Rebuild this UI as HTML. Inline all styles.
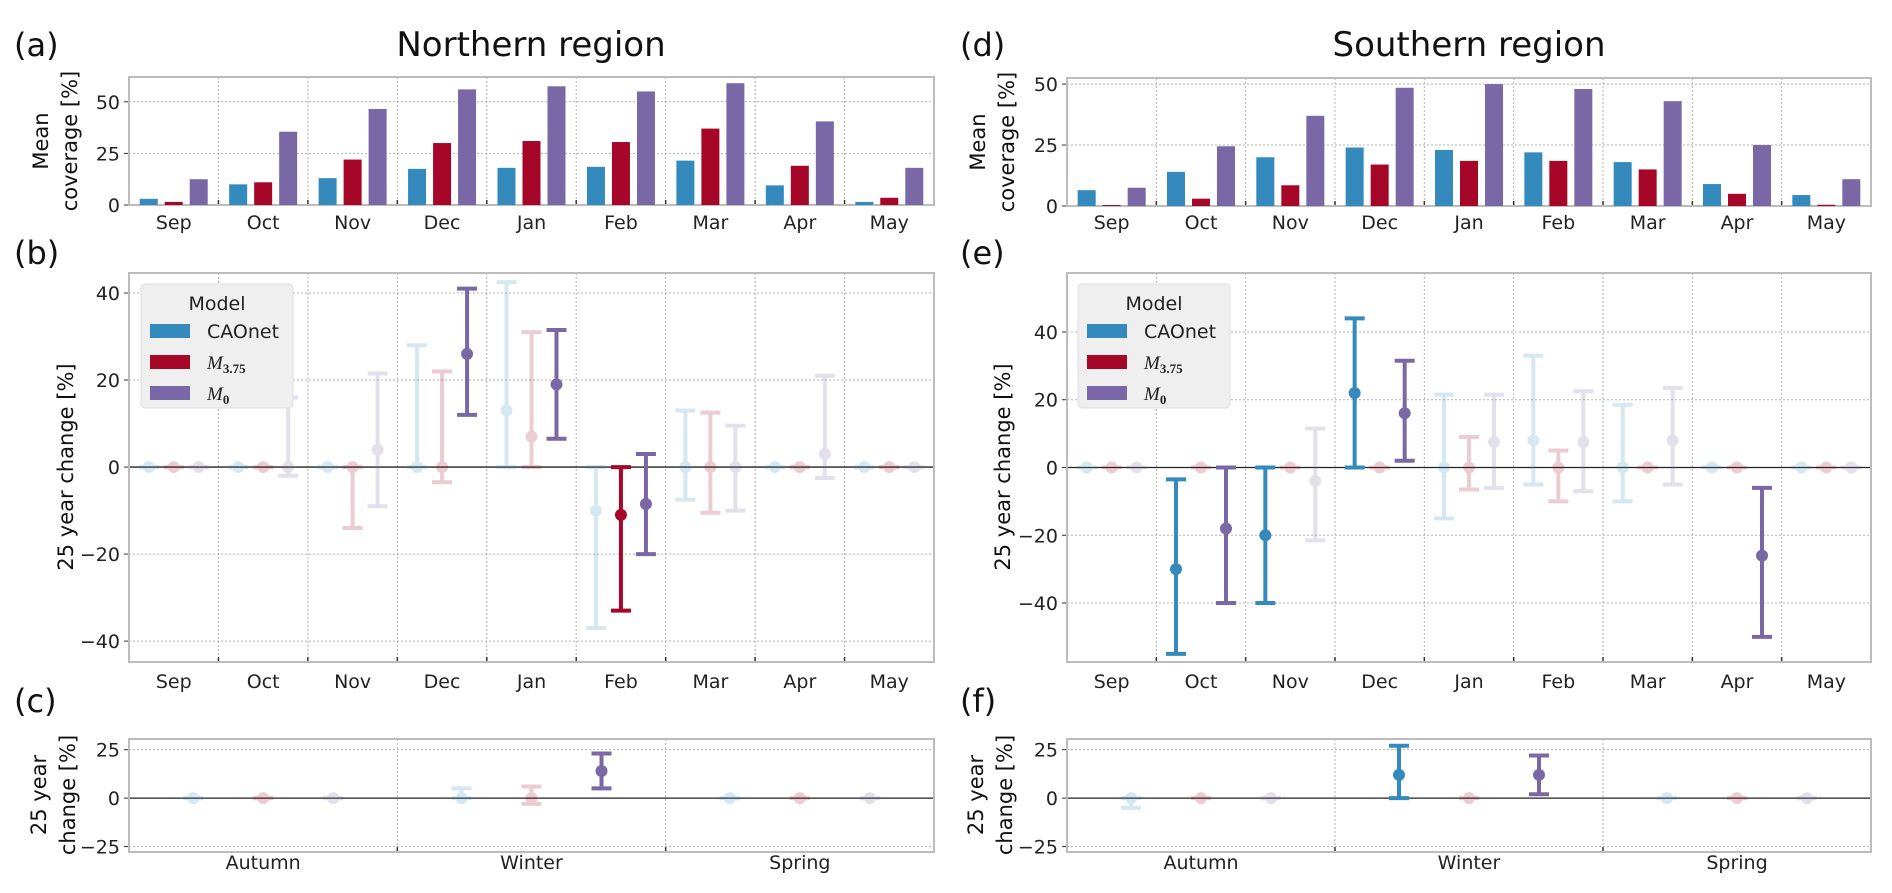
<!DOCTYPE html>
<html><head><meta charset="utf-8">
<style>
html,body{margin:0;padding:0;background:#fff;}
svg{display:block;font-family:"DejaVu Sans","Liberation Sans",sans-serif;}
</style></head>
<body>
<svg id="fig" width="1892" height="893" viewBox="0 0 1892 893" xmlns="http://www.w3.org/2000/svg"></svg>
<script>
const months = ["Sep","Oct","Nov","Dec","Jan","Feb","Mar","Apr","May"];
const seasons = ["Autumn","Winter","Spring"];
const models = ["CAOnet","M3.75","M0"];
const colors = ["#348ABD","#A60628","#7A68A6"];
// Mean coverage
const northCAOnet = [3,10,13,17.5,18,18.5,21.5,9.5,1.5];
const northM375 = [1.5,11,22,30,31,30.5,37,19,3.5];
const northM0 = [12.5,35.5,46.5,56,57.5,55,59,40.5,18];
const southCAOnet = [6.5,14,20,24,23,22,18,9,4.5];
const southM375 = [0.4,3,8.5,17,18.5,18.5,15,5,0.5];
const southM0 = [7.5,24.5,37,48.5,50,48,43,25,11];
// 25 year change monthly: mean, low, high, solid(1)/faded(0)
const nCmean=[0,0,0,0,13,-10,0,0,0], nClow=[0,0,0,0,0,-37,-7.5,0,0], nChigh=[0,0,0,28,42.5,0,13,0,0], nCsolid=[0,0,0,0,0,0,0,0,0];
const nMmean=[0,0,0,0,7,-11,0,0,0], nMlow=[0,0,-14,-3.5,0,-33,-10.5,0,0], nMhigh=[0,0,0,22,31,0,12.5,0,0], nMsolid=[0,0,0,0,0,1,0,0,0];
const nPmean=[0,0,4,26,19,-8.5,0,3,0], nPlow=[0,-2,-9,12,6.5,-20,-10,-2.5,0], nPhigh=[0,16,21.5,41,31.5,3,9.5,21,0], nPsolid=[0,0,0,1,1,1,0,0,0];
const sCmean=[0,-30,-20,22,0,8,0,0,0], sClow=[0,-55,-40,0,-15,-5,-10,0,0], sChigh=[0,-3.5,0,44,21.5,33,18.5,0,0], sCsolid=[0,1,1,1,0,0,0,0,0];
const sMmean=[0,0,0,0,0,0,0,0,0], sMlow=[0,0,0,0,-6.5,-10,0,0,0], sMhigh=[0,0,0,0,9,5,0,0,0], sMsolid=[0,0,0,0,0,0,0,0,0];
const sPmean=[0,-18,-4,16,7.5,7.5,8,-26,0], sPlow=[0,-40,-21.5,2,-6,-7,-5,-50,0], sPhigh=[0,0,11.5,31.5,21.5,22.5,23.5,-6,0], sPsolid=[0,1,0,1,0,0,0,1,0];
// seasonal
const ncCmean=[0,0,0], ncClow=[0,0,0], ncChigh=[0,5,0], ncCsolid=[0,0,0];
const ncMmean=[0,0,0], ncMlow=[0,-3,0], ncMhigh=[0,6,0], ncMsolid=[0,0,0];
const ncPmean=[0,14,0], ncPlow=[0,5,0], ncPhigh=[0,23,0], ncPsolid=[0,1,0];
const sfCmean=[0,12,0], sfClow=[-5,0,0], sfChigh=[0,27,0], sfCsolid=[0,1,0];
const sfMmean=[0,0,0], sfMlow=[0,0,0], sfMhigh=[0,0,0], sfMsolid=[0,0,0];
const sfPmean=[0,12,0], sfPlow=[0,2,0], sfPhigh=[0,22,0], sfPsolid=[0,1,0];
const ticksA=[0,25,50], ticksB=[-40,-20,0,20,40], ticksC=[-25,0,25];

const NS="http://www.w3.org/2000/svg";
const svg=document.getElementById('fig');
function el(tag,attrs,parent,text){const e=document.createElementNS(NS,tag);for(const k in attrs)e.setAttribute(k,attrs[k]);if(text!==undefined)e.textContent=text;(parent||svg).appendChild(e);return e;}

function axes(name,x0,x1,y0,y1,ymin,ymax,ticks,cats,catLabY,zeroLine){
  const g=el('g',{});
  
  
  const ys=v=>y1-(v-ymin)/(ymax-ymin)*(y1-y0);
  const n=cats.length, w=(x1-x0)/n;
  const xc=i=>x0+(i+0.5)*w;
  // grid
  for(let i=1;i<n;i++){const gl=el('line',{x1:x0+i*w,x2:x0+i*w,y1:y0,y2:y1,stroke:'#b0b0b0','stroke-width':1,'stroke-dasharray':'2,2'},g);
    
    el('line',{x1:x0+i*w,x2:x0+i*w,y1:y1,y2:y1-5,stroke:'#333','stroke-width':1.5},g);}
  ticks.forEach(t=>{const y=ys(t);
    const gl=el('line',{x1:x0,x2:x1,y1:y,y2:y,stroke:'#b0b0b0','stroke-width':1,'stroke-dasharray':'2,2'},g);
    
    el('line',{x1:x0-5,x2:x0,y1:y,y2:y,stroke:'#333','stroke-width':1},g);
    const tl=el('text',{x:x0-9,y:y+7,'text-anchor':'end','font-size':19,fill:'#222'},g,String(t).replace('-','\u2212'));
    });
  cats.forEach((c,i)=>{const t=el('text',{x:xc(i),y:catLabY,'text-anchor':'middle','font-size':19,fill:'#222'},g,c);
    });
  if(zeroLine){el('line',{x1:x0,x2:x1,y1:ys(0),y2:ys(0),stroke:'#222','stroke-width':1.3},g);}
  const fr=el('rect',{x:x0,y:y0,width:x1-x0,height:y1-y0,fill:'none',stroke:'#bcbcbc','stroke-width':2},g);
  
  return {g,ys,xc};
}

function bars(ax,series){
  series.forEach((vals,m)=>{vals.forEach((v,i)=>{
    const x=ax.xc(i)+(m-1)*25-9;
    const r=el('rect',{x:x,y:ax.ys(v),width:18,height:ax.ys(0)-ax.ys(v),fill:colors[m]},ax.g);
    
    
  });});
}
function errs(ax,sets,off){
  sets.forEach((s,m)=>{const [mean,lo,hi,sol]=s;mean.forEach((v,i)=>{
    const x=ax.xc(i)+(m-1)*off;
    const gg=el('g',{opacity:sol[i]?1:0.2},ax.g);
    
    
    const c=colors[m];
    el('line',{x1:x,x2:x,y1:ax.ys(lo[i]),y2:ax.ys(hi[i]),stroke:c,'stroke-width':4},gg);
    el('line',{x1:x-10,x2:x+10,y1:ax.ys(lo[i]),y2:ax.ys(lo[i]),stroke:c,'stroke-width':4},gg);
    el('line',{x1:x-10,x2:x+10,y1:ax.ys(hi[i]),y2:ax.ys(hi[i]),stroke:c,'stroke-width':4},gg);
    el('circle',{cx:x,cy:ax.ys(v),r:6,fill:c},gg);
  });});
}
function legend(x,y){
  const g=el('g',{});
  
  
  el('rect',{x:x,y:y,width:152,height:124,rx:4,fill:'#efefef',stroke:'#dcdcdc','stroke-width':1},g);
  el('text',{x:x+76,y:y+26,'text-anchor':'middle','font-size':19,fill:'#222'},g,'Model');
  const labs=[['CAOnet',''],['M','3.75'],['M','0']];
  labs.forEach((l,i)=>{const yy=y+47+i*31;
    const e=el('g',{},g);
    
    
    el('rect',{x:x+9,y:yy-7,width:40,height:14,fill:colors[i]},e);
    if(i===0){el('text',{x:x+66,y:yy+7,'font-size':19,fill:'#222'},e,'CAOnet');}
    else{const t=el('text',{x:x+66,y:yy+7,'font-size':19,'font-style':'italic','font-family':'"Liberation Serif",serif',fill:'#222'},e,'M');
      el('tspan',{'font-size':13,dy:4,'font-weight':'bold','font-style':'normal'},t,l[1]);}
  });
}
function txt(s,x,y,size,name,rot,anchor){
  const t=el('text',{x:x,y:y,'font-size':size,fill:'#111','text-anchor':anchor||'middle',transform:rot?`rotate(-90 ${x} ${y})`:''},svg,s);
  
  
}

const LX0=129,LX1=934,RX0=1067,RX1=1871;
// Panels a,d
const a=axes('panel-a-north-coverage',LX0,LX1,77,205,0,62,ticksA,months,229,false);
bars(a,[northCAOnet,northM375,northM0]);
const d=axes('panel-d-south-coverage',RX0,RX1,78,206,0,52.5,ticksA,months,229,false);
bars(d,[southCAOnet,southM375,southM0]);
// Panels b,e
const b=axes('panel-b-north-change',LX0,LX1,273,662,-44.8,44.6,ticksB,months,688,true);
errs(b,[[nCmean,nClow,nChigh,nCsolid],[nMmean,nMlow,nMhigh,nMsolid],[nPmean,nPlow,nPhigh,nPsolid]],25);
legend(141,284);
const e=axes('panel-e-south-change',RX0,RX1,273,662,-57.4,57.4,ticksB,months,688,true);
errs(e,[[sCmean,sClow,sChigh,sCsolid],[sMmean,sMlow,sMhigh,sMsolid],[sPmean,sPlow,sPhigh,sPsolid]],25);
legend(1078,284);
// Panels c,f
const c=axes('panel-c-north-seasonal',LX0,LX1,739,852,-27.8,30.5,ticksC,seasons,869,true);
errs(c,[[ncCmean,ncClow,ncChigh,ncCsolid],[ncMmean,ncMlow,ncMhigh,ncMsolid],[ncPmean,ncPlow,ncPhigh,ncPsolid]],70);
const f=axes('panel-f-south-seasonal',RX0,RX1,739,852,-27.8,30.5,ticksC,seasons,869,true);
errs(f,[[sfCmean,sfClow,sfChigh,sfCsolid],[sfMmean,sfMlow,sfMhigh,sfMsolid],[sfPmean,sfPlow,sfPhigh,sfPsolid]],70);

// titles & labels
txt('Northern region',531,56,34,'title-northern');
txt('Southern region',1469,56,34,'title-southern');
txt('(a)',14,56,32,'panel-label-a',false,'start');
txt('(b)',14,264,32,'panel-label-b',false,'start');
txt('(c)',14,712,32,'panel-label-c',false,'start');
txt('(d)',960,56,32,'panel-label-d',false,'start');
txt('(e)',960,264,32,'panel-label-e',false,'start');
txt('(f)',960,712,32,'panel-label-f',false,'start');
txt('Mean',48,141,21,'y-axis-title-a',true);
txt('coverage [%]',77,141,21,'y-axis-title-a2',true);
txt('Mean',985,142,21,'y-axis-title-d',true);
txt('coverage [%]',1014,142,21,'y-axis-title-d2',true);
txt('25 year change [%]',73,467,21,'y-axis-title-b',true);
txt('25 year change [%]',1010,467,21,'y-axis-title-e',true);
txt('25 year',46,795,21,'y-axis-title-c',true);
txt('change [%]',75,795,21,'y-axis-title-c2',true);
txt('25 year',983,795,21,'y-axis-title-f',true);
txt('change [%]',1012,795,21,'y-axis-title-f2',true);
</script>
</body></html>
